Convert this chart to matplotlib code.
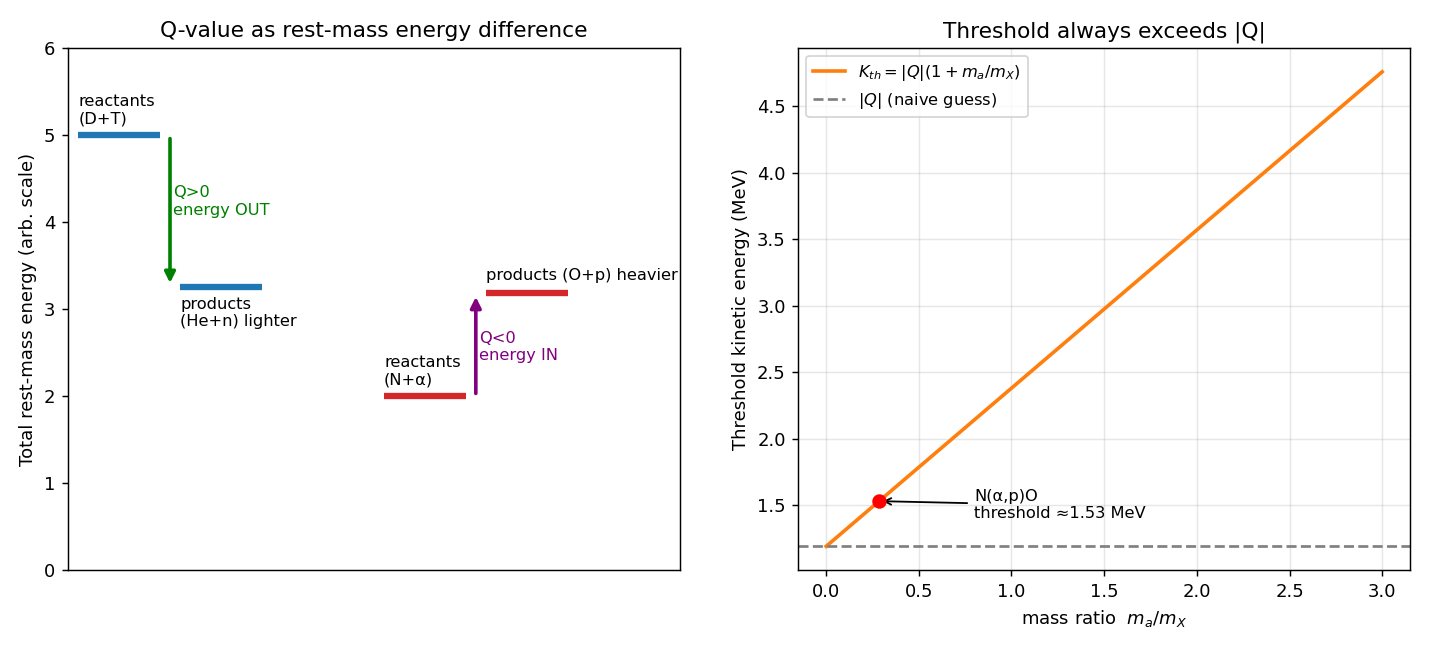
import numpy as np
import matplotlib.pyplot as plt

# left panel: energy levels (arb. scale)
exo_levels = [5.0, 3.25]       # reactants (D+T), products (He+n)
endo_levels = [2.0, 3.18]      # reactants (N+alpha), products (O+p)

# right panel: threshold vs mass ratio
Q_abs = 1.19
mass_ratio = [0.0, 3.0]
K_th = [1.19, 4.76]
point_ratio = 0.2857
point_K = 1.53

fig, axes = plt.subplots(1, 2, figsize=(11, 5), dpi=130)
plt.subplots_adjust(left=0.0476, right=0.986, bottom=0.123, top=0.926, wspace=0.194)

# ── Left: Q-value as rest-mass difference ─────────────────────
ax = axes[0]
ax.hlines(exo_levels[0], 0.1, 0.9, color="tab:blue", lw=3.5)
ax.hlines(exo_levels[1], 1.1, 1.9, color="tab:blue", lw=3.5)
ax.annotate("", xy=(1.0, 3.3), xytext=(1.0, 4.96),
            arrowprops=dict(arrowstyle="-|>", color="green", lw=2, mutation_scale=12,
                            shrinkA=0, shrinkB=0))
ax.text(1.03, 4.05, "Q>0\nenergy OUT", color="green", fontsize=9, va="bottom")
ax.text(0.1, 5.1, "reactants\n(D+T)", fontsize=9, va="bottom")
ax.text(1.1, 3.14, "products\n(He+n) lighter", fontsize=9, va="top")

ax.hlines(endo_levels[0], 3.1, 3.9, color="tab:red", lw=3.5)
ax.hlines(endo_levels[1], 4.1, 4.9, color="tab:red", lw=3.5)
ax.annotate("", xy=(4.0, 3.14), xytext=(4.0, 2.03),
            arrowprops=dict(arrowstyle="-|>", color="purple", lw=2, mutation_scale=12,
                            shrinkA=0, shrinkB=0))
ax.text(4.03, 2.38, "Q<0\nenergy IN", color="purple", fontsize=9, va="bottom")
ax.text(3.1, 2.1, "reactants\n(N+α)", fontsize=9, va="bottom")
ax.text(4.1, 3.3, "products (O+p) heavier", fontsize=9, va="bottom")

ax.set_xlim(0, 6)
ax.set_ylim(0, 6)
ax.set_xticks([])
ax.set_ylabel("Total rest-mass energy (arb. scale)")
ax.set_title("Q-value as rest-mass energy difference")

# ── Right: threshold always exceeds |Q| ───────────────────────
ax = axes[1]
ax.plot(mass_ratio, K_th, color="tab:orange", lw=2,
        label=r"$K_{th}=|Q|(1+m_a/m_X)$")
ax.axhline(Q_abs, color="gray", ls="--", lw=1.5, label=r"$|Q|$ (naive guess)")
ax.plot(point_ratio, point_K, "o", color="red", ms=7, zorder=5)
ax.annotate("N(α,p)O\nthreshold ≈1.53 MeV", xy=(point_ratio, point_K),
            xytext=(0.8, 1.4), fontsize=9,
            arrowprops=dict(arrowstyle="->", color="black", lw=1))
ax.set_xlabel(r"mass ratio  $m_a/m_X$")
ax.set_ylabel("Threshold kinetic energy (MeV)")
ax.set_title("Threshold always exceeds |Q|")
ax.grid(alpha=0.3)
ax.legend(loc="upper left", fontsize=9)

plt.savefig("out.png", dpi=130)
